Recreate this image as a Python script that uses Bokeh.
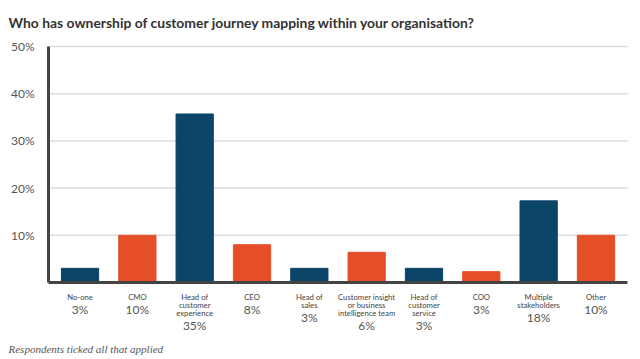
from bokeh.plotting import figure
from bokeh.models import Label, Range1d, ColumnDataSource
from bokeh.embed import file_html
from bokeh.resources import INLINE

categories = ["No-one", "CMO", "Head of\ncustomer\nexperience", "CEO", "Head of\nsales",
              "Customer insight\nor business\nintelligence team", "Head of\ncustomer\nservice",
              "COO", "Multiple\nstakeholders", "Other"]
values = [3, 10, 35.7, 8, 3, 6.4, 3, 2.3, 17.3, 10]
pct_labels = ["3%", "10%", "35%", "8%", "3%", "6%", "3%", "3%", "18%", "10%"]
y_ticks = [10, 20, 30, 40, 50]
title_text = "Who has ownership of customer journey mapping within your organisation?"
note_text = "Respondents ticked all that applied"

NAVY = "#0b4568"
ORANGE = "#e54f28"
colors = [NAVY if i % 2 == 0 else ORANGE for i in range(len(categories))]

W, H = 638, 357
# plot-area extents (data) and pixel layout inside the canvas
X_LO, X_HI = -0.55, len(categories) - 0.45
Y_LO, Y_HI = 0, max(y_ticks)
AREA_L, AREA_R, AREA_T, AREA_B = 48, 627, 46, 282   # canvas px
px_x = (AREA_R - AREA_L) / (X_HI - X_LO)
px_y = (AREA_B - AREA_T) / (Y_HI - Y_LO)

p = figure(width=W, height=H, output_backend="svg", toolbar_location=None,
           x_range=Range1d(X_LO - AREA_L / px_x, X_HI + (W - AREA_R) / px_x),
           y_range=Range1d(Y_LO - (H - AREA_B) / px_y, Y_HI + AREA_T / px_y),
           min_border=0)
p.outline_line_color = None
p.xaxis.visible = False
p.yaxis.visible = False
p.xgrid.visible = False
p.ygrid.visible = False

# gridlines
p.segment(x0=[X_LO] * len(y_ticks), x1=[X_HI] * len(y_ticks), y0=y_ticks, y1=y_ticks,
          line_color="#dddddd", line_width=1.5)

src = ColumnDataSource(dict(x=list(range(len(categories))), top=values, color=colors))
p.vbar(x="x", top="top", bottom=0, width=0.65, color="color", source=src)

# axis lines
p.segment(x0=[X_LO, X_LO], x1=[X_LO, X_HI], y0=[Y_LO, Y_LO], y1=[Y_HI, Y_LO],
          line_color="#444444", line_width=3)

for t in y_ticks:
    p.add_layout(Label(x=X_LO, y=t, x_offset=-14, text=f"{t}%", text_align="right",
                       text_baseline="middle", text_font="Lato", text_font_size="12px",
                       text_color="#555555"))


def cy(canvas_y_from_top):
    # canvas px from top -> screen units from frame bottom
    return H - canvas_y_from_top


for i, (cat, pct) in enumerate(zip(categories, pct_labels)):
    n = cat.count("\n") + 1
    p.add_layout(Label(x=i, y=cy(AREA_B + 9), y_units="screen", text=cat, text_align="center",
                       text_baseline="top", text_font="Lato", text_font_size="7.7px",
                       text_color="#444444", text_line_height=0.82))
    p.add_layout(Label(x=i, y=cy(AREA_B + 14 + 8 * (n - 1) + 13), y_units="screen", text=pct,
                       text_align="center", text_baseline="middle", text_font="Lato",
                       text_font_size="12px", text_color="#555555"))

p.add_layout(Label(x=8, y=cy(22), x_units="screen", y_units="screen", text=title_text,
                   text_align="left", text_baseline="middle", text_font="Lato",
                   text_font_style="bold", text_font_size="13.9px", text_color="#333333"))
p.add_layout(Label(x=8, y=cy(348), x_units="screen", y_units="screen", text=note_text,
                   text_align="left", text_baseline="middle", text_font="Liberation Serif",
                   text_font_style="italic", text_font_size="11px", text_color="#555555"))

open("out.html", "w").write(file_html(p, INLINE))
